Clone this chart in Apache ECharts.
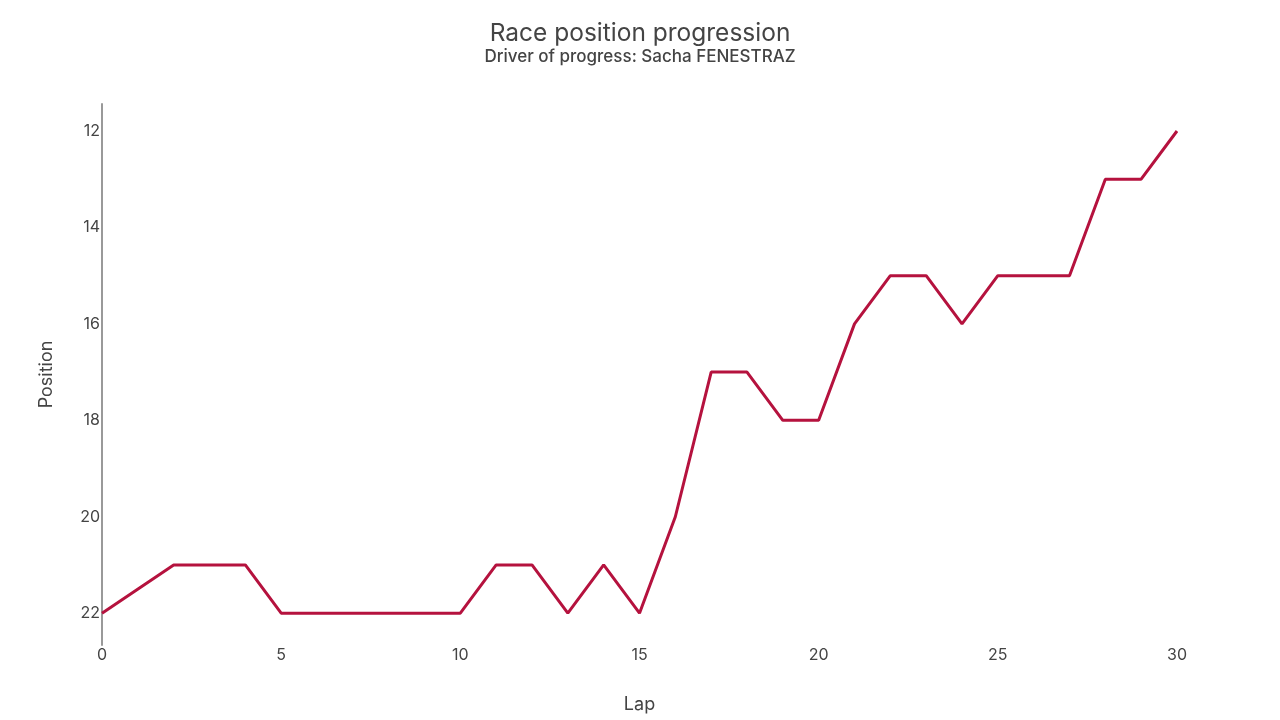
<!DOCTYPE html>
<html>
<head>
<meta charset="utf-8">
<script src="https://cdn.jsdelivr.net/npm/echarts@6/dist/echarts.min.js"></script>
<style>
html,body{margin:0;padding:0;background:#fff;}
#chart{width:1280px;height:720px;}
</style>
</head>
<body>
<div id="chart"></div>
<script>
const laps = [0, 2, 3, 4, 5, 6, 7, 8, 9, 10, 11, 12, 13, 14, 15, 16, 17, 18, 19, 20, 21, 22, 23, 24, 25, 26, 27, 28, 29, 30];
const positions = [22, 21, 21, 21, 22, 22, 22, 22, 22, 22, 21, 21, 22, 21, 22, 20, 17, 17, 18, 18, 16, 15, 15, 16, 15, 15, 15, 13, 13, 12];
const yTicks = [12, 14, 16, 18, 20, 22];
const xTicks = [0, 5, 10, 15, 20, 25, 30];

const FONT = 'Inter, "Noto Sans", sans-serif';
const chart = echarts.init(document.getElementById('chart'));
chart.setOption({
  backgroundColor: '#fff',
  animation: false,
  title: {
    text: 'Race position progression',
    subtext: 'Driver of progress: Sacha FENESTRAZ',
    left: 'center',
    top: 16,
    itemGap: 2,
    textStyle: {fontFamily: FONT, fontSize: 24.5, fontWeight: 'normal', color: '#444'},
    subtextStyle: {fontFamily: FONT, fontSize: 17, fontWeight: 500, color: '#444'}
  },
  grid: {left: 102, right: 103, top: 104, bottom: 75, containLabel: false},
  xAxis: {
    type: 'value',
    min: 0, max: 30,
    name: 'Lap',
    nameLocation: 'middle',
    nameGap: 51,
    nameTextStyle: {fontFamily: FONT, fontSize: 18, color: '#444'},
    axisLine: {show: false},
    axisTick: {show: false},
    splitLine: {show: false},
    axisLabel: {customValues: xTicks, fontFamily: FONT, fontSize: 16, color: '#444', margin: 2}
  },
  yAxis: {
    type: 'value',
    inverse: true,
    min: 11.44, max: 22.66,
    name: 'Position',
    nameLocation: 'middle',
    nameGap: 46,
    nameTextStyle: {fontFamily: FONT, fontSize: 18, color: '#444'},
    axisLine: {show: true, lineStyle: {color: '#999', width: 2}},
    axisTick: {show: false},
    splitLine: {show: false},
    axisLabel: {customValues: yTicks, fontFamily: FONT, fontSize: 16, color: '#444', margin: 2}
  },
  series: [{
    type: 'line',
    data: laps.map((l, i) => [l, positions[i]]),
    showSymbol: false,
    lineStyle: {color: '#b5123e', width: 3},
    itemStyle: {color: '#b5123e'}
  }]
});
</script>
</body>
</html>
